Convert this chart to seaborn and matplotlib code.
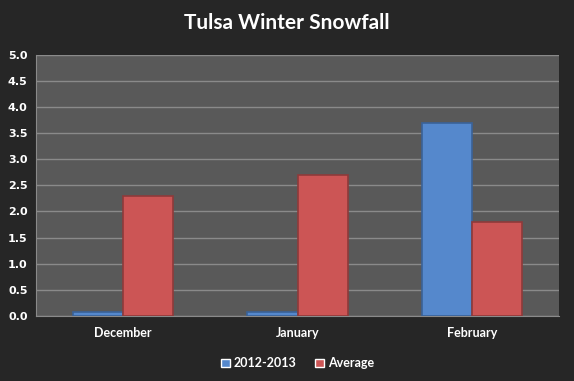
import matplotlib
matplotlib.use("Agg")

import matplotlib.pyplot as plt
import pandas as pd
import seaborn as sns

months = ["December", "January", "February"]
season_2012 = [0.07, 0.07, 3.7]
average = [2.3, 2.7, 1.8]
series_names = ["2012-2013", "Average"]
y_ticks = [0.0, 0.5, 1.0, 1.5, 2.0, 2.5, 3.0, 3.5, 4.0, 4.5, 5.0]

df = pd.DataFrame({
    "month": months * 2,
    "snow": season_2012 + average,
    "series": [series_names[0]] * 3 + [series_names[1]] * 3,
})

bg = "#262626"
panel = "#595959"
grid = "#8a8a8a"
colors = {"2012-2013": "#5588cc", "Average": "#cc5555"}
edges = {"2012-2013": "#3a6298", "Average": "#8e3a3a"}

sns.set_style("dark")
plt.rcParams["font.family"] = ["Lato", "DejaVu Sans"]

fig = plt.figure(figsize=(5.74, 3.81), dpi=100, facecolor=bg)
ax = fig.add_axes([0.0627, 0.1706, 0.9113, 0.6858])
ax.set_facecolor(panel)

sns.barplot(data=df, x="month", y="snow", hue="series", palette=colors,
            width=0.575, gap=0.0, ax=ax, zorder=3, saturation=1)

for cont, name in zip(ax.containers, series_names):
    for bar in cont:
        bar.set_edgecolor(edges[name])
        bar.set_linewidth(1.2)

ax.set_ylim(0, 5.0)
ax.set_yticks(y_ticks)
ax.set_yticklabels([f"{v:.1f}" for v in y_ticks], fontfamily="DejaVu Sans",
                   fontweight="bold", fontsize=8, color="white")
ax.tick_params(axis="x", colors="white", labelsize=9, length=0, pad=8)
for lbl in ax.get_xticklabels():
    lbl.set_fontweight("bold")
ax.tick_params(axis="y", length=4, color=grid, pad=2, direction="out")
ax.grid(axis="y", color=grid, linewidth=1, zorder=0)
ax.grid(axis="x", visible=False)

for side in ["top", "right"]:
    ax.spines[side].set_visible(False)
ax.spines["left"].set_color(grid)
ax.spines["bottom"].set_color(grid)

ax.set_xlabel("")
ax.set_ylabel("")

fig.suptitle("Tulsa Winter Snowfall", color="white", fontweight="bold",
             fontsize=15, y=0.965)

ax.legend(loc="upper center", bbox_to_anchor=(0.5, -0.115), ncol=2,
          frameon=False, labelcolor="white", prop={"weight": "bold", "size": 9},
          handlelength=0.7, handleheight=0.7, handletextpad=0.3,
          columnspacing=1.5)

fig.savefig("out.png", dpi=100, facecolor=bg)
